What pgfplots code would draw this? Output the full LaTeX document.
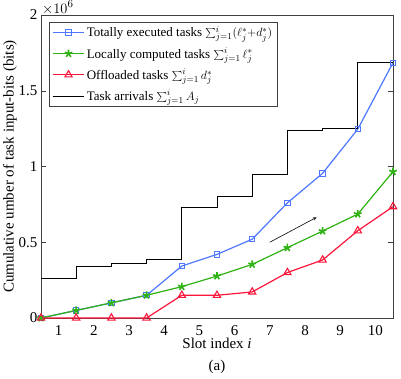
\documentclass[border=0pt]{standalone}
\usepackage{fontspec}
\setmainfont{Liberation Serif}
\usepackage{pgfplots}
\pgfplotsset{compat=1.18}
\definecolor{cblue}{RGB}{77,119,255}
\definecolor{cgreen}{RGB}{46,178,18}
\definecolor{cred}{RGB}{250,22,58}
\definecolor{caxis}{RGB}{64,64,64}
\begin{document}
\begin{tikzpicture}
\begin{axis}[
  scale only axis, width=352pt, height=303pt,
  xmin=0, xmax=10, ymin=0, ymax=2000000,
  clip=false,
  axis line style={caxis}, tick style={caxis},
  tick align=inside, major tick length=5pt, minor tick length=5pt,
  xtick={0.5,1.5,...,9.5}, xticklabels={1,2,3,4,5,6,7,8,9,10},
  xtick style={draw=none},
  minor xtick={1,2,...,9}, xminorticks=true,
  minor tick style={caxis},
  ytick={0,500000,1000000,1500000,2000000},
  scaled y ticks=base 10:-6,
  ytick scale label code/.code={$\times 10^{#1}$},
  every y tick scale label/.style={at={(rel axis cs:0,1)}, anchor=south west, inner sep=0pt,
    xshift=1pt, yshift=0.5pt, font=\fontsize{15}{17}\selectfont},
  /pgf/number format/assume math mode=true,
  ticklabel style={font=\fontsize{15}{17}\selectfont},
  every x tick label/.append style={yshift=-4pt},
  xlabel={Slot index \textit{i}},
  ylabel={Cumulative umber of task input-bits (bits)},
  label style={font=\fontsize{15}{17}\selectfont},
  xlabel style={yshift=4pt},
  ylabel style={yshift=-5pt},
  legend cell align=left,
  legend style={at={(0.023,0.977)}, anchor=north west, draw=caxis,
    font=\fontsize{13}{15}\selectfont, row sep=5pt,
    inner xsep=3pt, inner ysep=2pt},
  legend image code/.code={\draw[mark repeat=2,mark phase=2,#1] plot coordinates {(0cm,0cm) (0.55cm,0cm) (1.1cm,0cm)};},
]
\addplot[cblue, line width=1.2pt, mark=square, mark size=2.7pt, mark options={solid, line width=1pt}]
  coordinates {(0,0) (1,50000) (2,100000) (3,150000) (4,343000) (5,420000) (6,520000) (7,760000) (8,955000) (9,1247000) (10,1685000)};
\addlegendentry{Totally executed tasks $\sum_{j=1}^{i}(\ell_j^*{+}d_j^*)$}
\addplot[cgreen, line width=1.2pt, mark=star, mark size=4pt, mark options={line width=1.6pt}]
  coordinates {(0,0) (1,50000) (2,100000) (3,150000) (4,207000) (5,277000) (6,354000) (7,464000) (8,574000) (9,686000) (10,966000)};
\addlegendentry{Locally computed tasks $\sum_{j=1}^{i}\ell_j^*$}
\addplot[cred, line width=1.2pt, mark=triangle, mark size=4.2pt, mark options={line width=1.1pt}]
  coordinates {(0,0) (1,0) (2,0) (3,0) (4,150000) (5,150000) (6,172000) (7,300000) (8,383000) (9,576000) (10,735000)};
\addlegendentry{Offloaded tasks $\sum_{j=1}^{i}d_j^*$}
\addplot[black, line width=0.9pt, const plot, mark=none]
  coordinates {(0,260000) (1,339000) (2,363000) (3,385000) (4,730000) (5,805000) (6,946000) (7,1236000) (8,1250000) (9,1690000) (10,1690000)};
\addlegendentry{Task arrivals $\sum_{j=1}^{i}A_j$}
\draw[-stealth, black, line width=0.6pt] (axis cs:6.5,500000) -- (axis cs:7.83,665000);
\node[font=\fontsize{15}{17}\selectfont] at (axis cs:5,-325000) {(a)};
\end{axis}
\pgfresetboundingbox
\path (-41pt,-60pt) rectangle (360pt,318pt);
\end{tikzpicture}
\end{document}
